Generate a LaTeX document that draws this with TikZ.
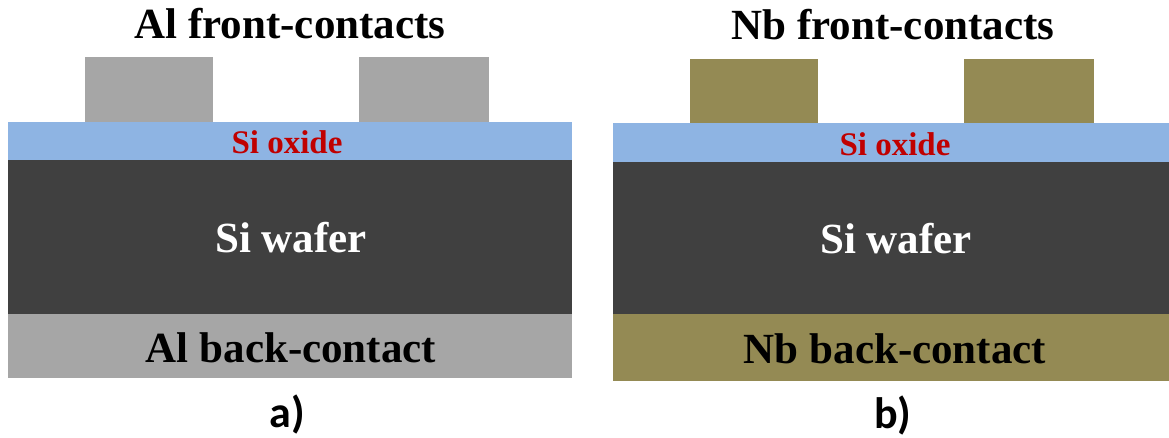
\documentclass[tikz,border=0pt]{standalone}
\usepackage{fontspec}
\setmainfont{Liberation Serif}
\newfontfamily\labelfont{Carlito}
\definecolor{algray}{HTML}{A6A6A6}
\definecolor{nbolive}{HTML}{948A54}
\definecolor{oxideblue}{HTML}{8EB4E3}
\definecolor{waferdark}{HTML}{404040}
\definecolor{oxidered}{HTML}{C00000}
\begin{document}
\begin{tikzpicture}[x=1pt,y=-1pt,
  title/.style={anchor=base,inner sep=0pt,font=\fontsize{43}{46}\selectfont\bfseries},
  oxtext/.style={anchor=base,inner sep=0pt,text=oxidered,font=\fontsize{33}{36}\selectfont\bfseries},
  wafertext/.style={anchor=base,inner sep=0pt,text=white,font=\fontsize{43}{46}\selectfont\bfseries},
  backtext/.style={anchor=base,inner sep=0pt,font=\fontsize{43}{46}\selectfont\bfseries},
  panel/.style={anchor=base,inner sep=0pt,font=\labelfont\fontsize{44}{48}\selectfont\bfseries}]
\useasboundingbox (0,0) rectangle (1169,438);

% --- panel a: aluminium contacts ---
\fill[algray]     (85,57)   rectangle (213,122);
\fill[algray]     (359,57)  rectangle (489,122);
\fill[oxideblue]  (8,122)   rectangle (572,160);
\fill[waferdark]  (8,160)   rectangle (572,314);
\fill[algray]     (8,314)   rectangle (572,378);
\node[title]     (atitle) at (290,39)  {Al front-contacts};
\node[oxtext]    (aox)    at (287,154) {Si oxide};
\node[wafertext] (awaf)   at (291,253) {Si wafer};
\node[backtext]  (aback)  at (291,362) {Al back-contact};
\node[panel]     (alab)   at (287,427) {a)};

% --- panel b: niobium contacts ---
\fill[nbolive]    (690,59)  rectangle (818,123);
\fill[nbolive]    (964,59)  rectangle (1094,123);
\fill[oxideblue]  (613,123) rectangle (1169,162);
\fill[waferdark]  (613,162) rectangle (1169,314);
\fill[nbolive]    (613,314) rectangle (1169,381);
\node[title]     (btitle) at (893,40)  {Nb front-contacts};
\node[oxtext]    (box)    at (895,156) {Si oxide};
\node[wafertext] (bwaf)   at (896,254) {Si wafer};
\node[backtext]  (bback)  at (895,363) {Nb back-contact};
\node[panel]     (blab)   at (893,428) {b)};
\end{tikzpicture}
\end{document}
